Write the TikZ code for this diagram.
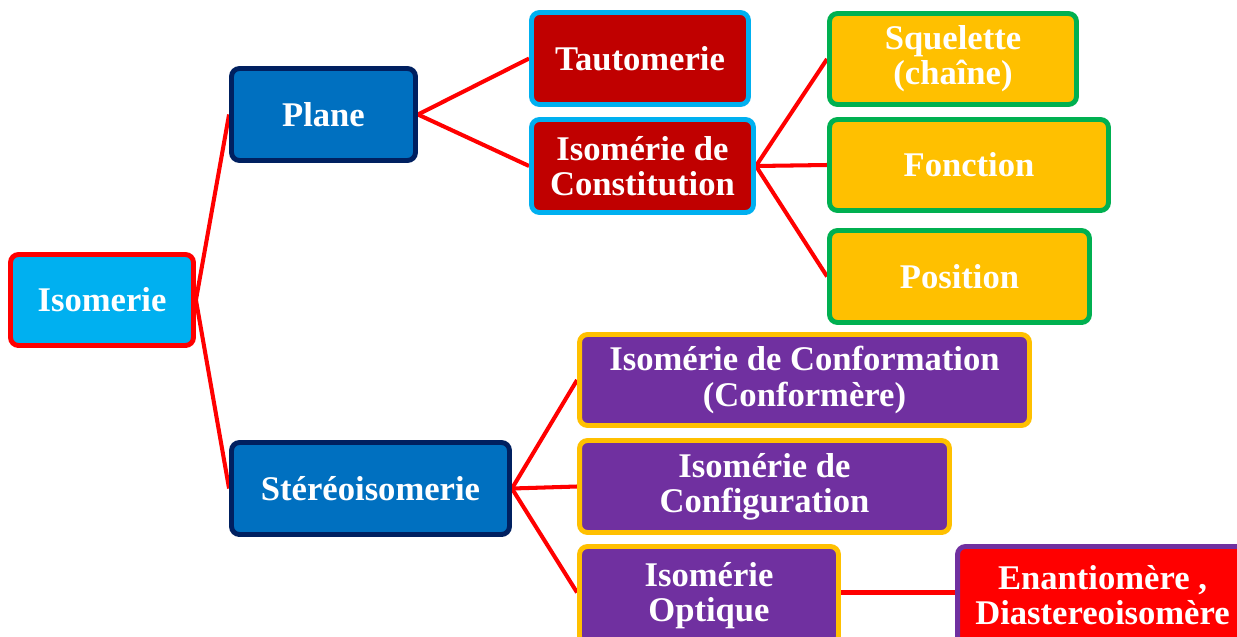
\documentclass[tikz,border=0pt]{standalone}
\usepackage{fontspec}
\setmainfont{Liberation Serif}
\usetikzlibrary{backgrounds}
\definecolor{cyanB}{RGB}{0,176,240}
\definecolor{blueB}{RGB}{0,112,192}
\definecolor{navyB}{RGB}{0,32,96}
\definecolor{darkredB}{RGB}{192,0,0}
\definecolor{goldB}{RGB}{255,192,0}
\definecolor{greenB}{RGB}{0,176,80}
\definecolor{purpleB}{RGB}{112,48,160}
\definecolor{redB}{RGB}{255,0,0}
\tikzset{
  box/.style={rectangle, rounded corners=0.16cm, line width=2.8pt, text=white,
    font=\fontsize{19.7}{20}\selectfont\bfseries, align=center, inner sep=0pt},
  lvlA/.style={box, fill=cyanB, draw=redB},
  lvlB/.style={box, fill=blueB, draw=navyB},
  lvlC/.style={box, fill=darkredB, draw=cyanB},
  lvlD/.style={box, fill=goldB, draw=greenB},
  lvlE/.style={box, fill=purpleB, draw=goldB},
  lvlF/.style={box, fill=redB, draw=purpleB},
  link/.style={draw=redB, line width=2.3pt}
}
\begin{document}
\begin{tikzpicture}[x=0.02cm, y=-0.02cm]
\useasboundingbox (0,0) rectangle (1237,636);
\clip (0,0) rectangle (1237,636);
\node[lvlA, minimum width=3.66cm, minimum height=1.82cm] (iso) at (102,300) {Isomerie};
\node[lvlB, minimum width=3.68cm, minimum height=1.84cm] (plane) at (323.5,114.5) {Plane};
\node[lvlB, minimum width=5.56cm, minimum height=1.84cm] (stereo) at (370.5,488.5) {Stéréoisomerie};
\node[lvlC, minimum width=4.34cm, minimum height=1.84cm] (taut) at (640,58.5) {Tautomerie};
\node[lvlC, minimum width=4.44cm, minimum height=1.86cm] (const) at (642.5,166) {Isomérie de\\Constitution};
\node[lvlD, minimum width=4.94cm, minimum height=1.82cm] (sq) at (953,59) {Squelette\\(chaîne)};
\node[lvlD, minimum width=5.58cm, minimum height=1.82cm] (fonc) at (969,165) {Fonction};
\node[lvlD, minimum width=5.20cm, minimum height=1.84cm] (pos) at (959.5,276.5) {Position};
\node[lvlE, minimum width=9.00cm, minimum height=1.82cm] (conf) at (804.5,380) {Isomérie de Conformation\\(Conformère)};
\node[lvlE, minimum width=7.40cm, minimum height=1.84cm] (config) at (764.5,486.5) {Isomérie de\\Configuration};
\node[lvlE, minimum width=5.18cm, minimum height=1.96cm] (opt) at (709,595.5) {Isomérie\\Optique};
\node[lvlF, minimum width=5.80cm, minimum height=1.96cm] (enan) at (1102.5,595.5) {Enantiomère ,\\Diastereoisomère};
\begin{scope}[on background layer]
\draw[link] (iso.east) -- (plane.west);
\draw[link] (iso.east) -- (stereo.west);
\draw[link] (plane.east) -- (taut.west);
\draw[link] (plane.east) -- (const.west);
\draw[link] (const.east) -- (sq.west);
\draw[link] (const.east) -- (fonc.west);
\draw[link] (const.east) -- (pos.west);
\draw[link] (stereo.east) -- (conf.west);
\draw[link] (stereo.east) -- (config.west);
\draw[link] (stereo.east) -- ([yshift=0.06cm]opt.west);
\draw[link] ([yshift=0.06cm]opt.east) -- ([yshift=0.06cm]enan.west);
\end{scope}
\end{tikzpicture}
\end{document}
